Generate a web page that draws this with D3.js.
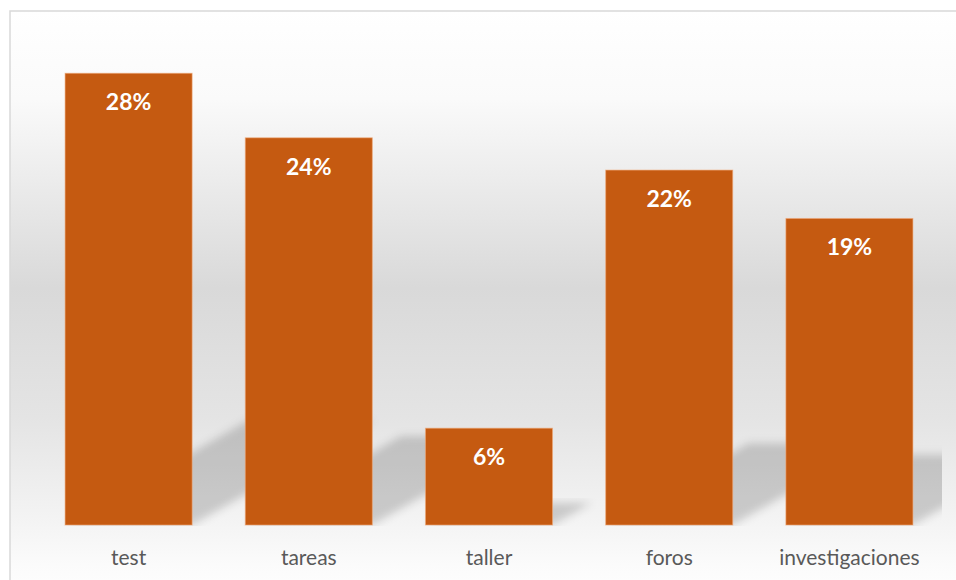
<!DOCTYPE html>
<html lang="es">
<head>
  <meta charset="UTF-8" />
  <title>Actividades</title>
  <script src="https://cdn.jsdelivr.net/npm/d3@7/dist/d3.min.js"></script>
  <style>
    body { margin: 0; background: #fff; }
    svg { display: block; }
  </style>
</head>
<body>
  <div id="chart"></div>
  <script type="text/javascript">
    // Data
    var categories = ["test", "tareas", "taller", "foros", "investigaciones"];
    var values = [28, 24, 6, 22, 19];

    var width = 956, height = 580;
    var baseY = 525;

    var svg = d3.select("#chart").append("svg")
                .attr("width", width)
                .attr("height", height);

    var defs = svg.append("defs");

    // Chart area background: white -> grey -> white
    var grad = defs.append("linearGradient")
                   .attr("id", "bg")
                   .attr("x1", 0).attr("y1", 0)
                   .attr("x2", 0).attr("y2", 1);
    [[0, "#ffffff"], [0.15, "#fafafa"], [0.47, "#d9d9d9"], [0.69, "#e4e4e4"],
     [0.87, "#f4f4f4"], [0.94, "#fbfbfb"], [1, "#ffffff"]]
      .forEach(function(s) {
        grad.append("stop").attr("offset", s[0]).attr("stop-color", s[1]);
      });

    var blur = defs.append("filter").attr("id", "blur")
                   .attr("x", "-20%").attr("y", "-20%")
                   .attr("width", "140%").attr("height", "140%");
    blur.append("feGaussianBlur").attr("stdDeviation", 4);

    defs.append("clipPath").attr("id", "plotClip")
        .append("rect")
        .attr("x", 38).attr("y", 20)
        .attr("width", 942 - 38).attr("height", baseY + 1 - 20);

    svg.append("rect")
       .attr("x", 10).attr("y", 11)
       .attr("width", width + 10).attr("height", 589)
       .attr("fill", "url(#bg)")
       .attr("stroke", "#d9d9d9")
       .attr("stroke-width", 1.5);

    var x = d3.scaleBand()
              .domain(categories)
              .range([38.5, 939.5])
              .paddingInner(0.295)
              .paddingOuter(0.1475);

    var y = d3.scaleLinear()
              .domain([0, 30])
              .range([baseY, 41]);

    var data = categories.map(function(c, i) { return { cat: c, val: values[i] }; });

    // Perspective shadows cast behind each bar
    var shadowK = 0.23, skew = 1.75;
    svg.append("g")
       .attr("clip-path", "url(#plotClip)")
       .selectAll("path")
       .data(data)
       .enter().append("path")
       .attr("d", function(d) {
         var x0 = x(d.cat), x1 = x0 + x.bandwidth();
         var s = (baseY - y(d.val)) * shadowK;
         var dx = s * skew;
         return "M" + x0 + "," + baseY + "L" + x1 + "," + baseY +
                "L" + (x1 + dx) + "," + (baseY - s) +
                "L" + (x0 + dx) + "," + (baseY - s) + "Z";
       })
       .attr("fill", "#000")
       .attr("fill-opacity", 0.17)
       .attr("filter", "url(#blur)");

    // Bars
    svg.append("g").selectAll("rect")
       .data(data)
       .enter().append("rect")
       .attr("x", function(d) { return x(d.cat); })
       .attr("y", function(d) { return y(d.val); })
       .attr("width", x.bandwidth())
       .attr("height", function(d) { return baseY - y(d.val); })
       .attr("fill", "#c55a11")
       .attr("stroke", "#f0a878")
       .attr("stroke-opacity", 0.6)
       .attr("stroke-width", 1);

    // Value labels inside the bars
    svg.append("g").selectAll("text")
       .data(data)
       .enter().append("text")
       .attr("x", function(d) { return x(d.cat) + x.bandwidth() / 2; })
       .attr("y", function(d) { return y(d.val) + 37; })
       .attr("text-anchor", "middle")
       .attr("font-family", "Lato, 'Open Sans', sans-serif")
       .attr("font-weight", "bold")
       .attr("font-size", 23)
       .attr("fill", "#ffffff")
       .text(function(d) { return d.val + "%"; });

    // Category axis (no line, no ticks)
    var axis = svg.append("g")
                  .attr("transform", "translate(0," + baseY + ")")
                  .call(d3.axisBottom(x).tickSize(0).tickPadding(25));
    axis.select(".domain").remove();
    axis.selectAll("text")
        .attr("font-family", "Lato, 'Open Sans', sans-serif")
        .attr("font-size", 21)
        .attr("fill", "#595959");
  </script>
</body>
</html>
